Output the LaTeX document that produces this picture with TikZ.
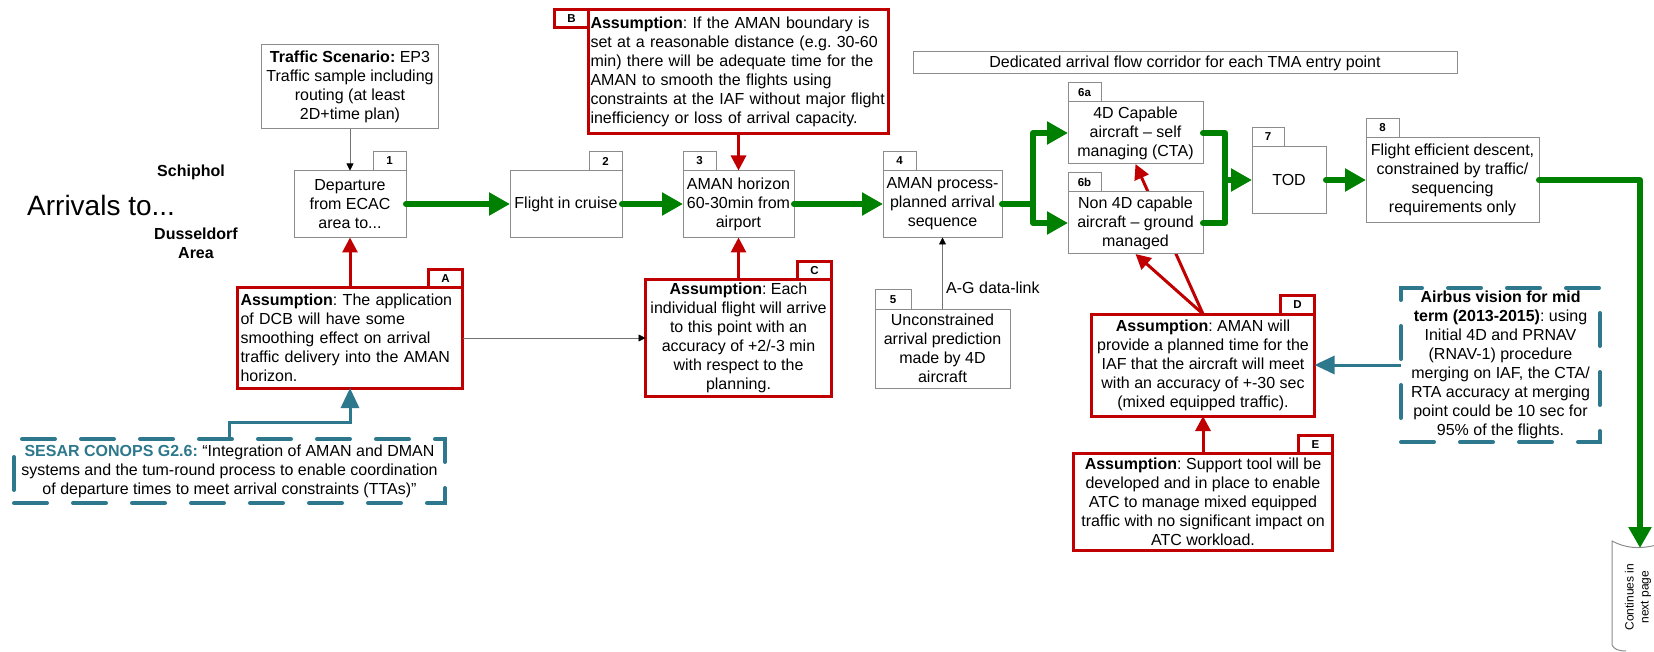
\documentclass[tikz,border=0pt]{standalone}
\usepackage{fontspec}
\setmainfont{Liberation Sans}
\usetikzlibrary{arrows.meta,positioning}
\pgfdeclarelayer{bg}
\pgfsetlayers{bg,main}
\definecolor{asred}{RGB}{192,0,0}
\definecolor{flowgreen}{RGB}{0,128,0}
\definecolor{visionteal}{RGB}{45,120,140}
\definecolor{boxgray}{RGB}{140,140,140}
\newcommand{\boxfont}{\fontsize{16}{19}\selectfont}
\newcommand{\tabfont}{\fontsize{11.5}{12}\selectfont\bfseries}
\frenchspacing

\begin{document}
\begin{tikzpicture}[x=1pt, y=-1pt,
	stepbox/.style={draw=boxgray, fill=white, line width=1pt, inner sep=2pt, outer sep=0pt, align=center, font=\boxfont},
	tab/.style={draw=boxgray, fill=white, line width=1pt, minimum width=33pt, minimum height=19pt, inner sep=0pt, outer sep=0pt, font=\tabfont},
	assumption/.style={stepbox, draw=asred, line width=3pt},
	atab/.style={tab, draw=asred, line width=3pt, minimum width=34pt, minimum height=18pt},
	vision/.style={draw=visionteal, line width=4pt, line cap=round, dash pattern=on 33pt off 26pt, inner sep=2pt, outer sep=0pt, align=center, font=\boxfont},
	flow/.style={draw=flowgreen, line width=6pt, line cap=round, line join=round, -{Triangle[length=21pt, width=22pt]}},
	flowline/.style={draw=flowgreen, line width=6pt, line cap=round, line join=round},
	cause/.style={draw=asred, line width=3pt, -{Triangle[length=15pt, width=15pt]}},
	support/.style={draw=visionteal, line width=3pt, -{Triangle[length=20pt, width=18pt]}},
	feed/.style={draw=black!55, line width=0.8pt, -{Triangle[length=7pt, width=7pt, color=black]}}]
	\useasboundingbox (0,0) rectangle (1654,652);

	% titles on the left
	\node[font=\fontsize{28}{32}\selectfont, inner sep=0pt, anchor=west] (arrivals) at (27,205) {Arrivals to...};
	\node[font=\boxfont\bfseries] (schiphol) at (191,172) {Schiphol};
	\node[font=\boxfont\bfseries, align=center] (dusseldorf) at (196,243) {Dusseldorf\\Area};

	% process steps
	\node[stepbox, minimum width=177pt, minimum height=84pt] (scenario) at (350,87) {\textbf{Traffic Scenario:} EP3\\Traffic sample including\\routing (at least\\2D+time plan)};
	\node[stepbox, minimum width=112pt, minimum height=67pt] (depart) at (350,204) {Departure\\from ECAC\\area to...};
	\node[tab, anchor=south east] (t1) at (depart.north east) {1};
	\node[stepbox, minimum width=112pt, minimum height=67pt] (cruise) at (566,204) {Flight in cruise};
	\node[tab, anchor=south east] (t2) at (cruise.north east) {2};
	\node[stepbox, minimum width=111pt, minimum height=67pt] (horizon) at (738.5,204) {AMAN horizon\\60-30min from\\airport};
	\node[tab, anchor=south west] (t3) at (horizon.north west) {3};
	\node[stepbox, minimum width=119pt, minimum height=67pt] (sequence) at (942.5,204) {AMAN process-\\planned arrival\\sequence};
	\node[tab, anchor=south west] (t4) at (sequence.north west) {4};
	\node[stepbox, minimum width=135pt, minimum height=79pt] (predict) at (942.5,348.5) {Unconstrained\\arrival prediction\\made by 4D\\aircraft};
	\node[tab, anchor=south west, minimum width=36pt] (t5) at (predict.north west) {5};
	\node[stepbox, minimum width=135pt, minimum height=62pt] (capable) at (1135.5,133) {4D Capable\\aircraft – self\\managing (CTA)};
	\node[tab, anchor=south west] (t6a) at (capable.north west) {6a};
	\node[stepbox, minimum width=135pt, minimum height=62pt] (ground) at (1135.5,223) {Non 4D capable\\aircraft – ground\\managed};
	\node[tab, anchor=south west] (t6b) at (ground.north west) {6b};
	\node[stepbox, minimum width=74pt, minimum height=67pt] (tod) at (1289,180) {TOD};
	\node[tab, anchor=south west, minimum width=32pt] (t7) at (tod.north west) {7};
	\node[stepbox, minimum width=173pt, minimum height=85pt] (descent) at (1452.5,180) {Flight efficient descent,\\constrained by traffic/\\sequencing\\requirements only};
	\node[tab, anchor=south west] (t8) at (descent.north west) {8};
	\node[stepbox, minimum width=544pt, minimum height=22pt] (corridor) at (1185,63) {Dedicated arrival flow corridor for each TMA entry point};

	% assumptions
	\node[assumption, minimum width=225pt, minimum height=100pt, text width=219pt, align=left] (dcb) at (350,338) {\textbf{Assumption}: The application\\of DCB will have some\\smoothing effect on arrival\\traffic delivery into the AMAN\\horizon.};
	\node[atab, anchor=south east] (ta) at (dcb.north east) {A};
	\node[assumption, minimum width=300pt, minimum height=124pt, text width=296pt, align=left] (boundary) at (738.5,71.5) {\textbf{Assumption}: If the AMAN boundary is\\set at a reasonable distance (e.g. 30-60\\min) there will be adequate time for the\\AMAN to smooth the flights using\\constraints at the IAF without major flight\\inefficiency or loss of arrival capacity.};
	\node[atab, anchor=north east] (tb) at (boundary.north west) {B};
	\node[assumption, minimum width=186pt, minimum height=116pt] (accuracy) at (738.5,338) {\textbf{Assumption}: Each\\individual flight will arrive\\to this point with an\\accuracy of +2/-3 min\\with respect to the\\planning.};
	\node[atab, anchor=south east] (tc) at (accuracy.north east) {C};
	\node[assumption, minimum width=223pt, minimum height=102pt] (planned) at (1203,365) {\textbf{Assumption}: AMAN will\\provide a planned time for the\\IAF that the aircraft will meet\\with an accuracy of +-30 sec\\(mixed equipped traffic).};
	\node[atab, anchor=south east] (td) at (planned.north east) {D};
	\node[assumption, minimum width=259pt, minimum height=97pt] (tool) at (1203,502) {\textbf{Assumption}: Support tool will be\\developed and in place to enable\\ATC to manage mixed equipped\\traffic with no significant impact on\\ATC workload.};
	\node[atab, anchor=south east] (te) at (tool.north east) {E};

	% visions
	\node[vision, minimum width=431pt, minimum height=64pt] (conops) at (229.5,471) {\textcolor{visionteal}{\textbf{SESAR CONOPS G2.6:}} “Integration of AMAN and DMAN\\systems and the tum-round process to enable coordination\\of departure times to meet arrival constraints (TTAs)”};
	\node[vision, minimum width=199pt, minimum height=154pt] (airbus) at (1500.5,365) {\textbf{Airbus vision for mid}\\\textbf{term (2013-2015)}: using\\Initial 4D and PRNAV\\(RNAV-1) procedure\\merging on IAF, the CTA/\\RTA accuracy at merging\\point could be 10 sec for\\95\% of the flights.};

	% off-page connector
	\draw[boxgray, line width=1pt] (1660,544) .. controls (1640,550) and (1625,548) .. (1612,541) -- (1612,645) .. controls (1614,649) and (1618,651) .. (1626,651);
	\coordinate (offpage) at (1640,548);
	\node[font=\fontsize{12}{15}\selectfont, align=center, rotate=90] (nextpage) at (1638,597) {Continues in\\next page};

	% main flow
	\draw[flow] (depart.east) -- (cruise.west);
	\draw[flow] (cruise.east) -- (horizon.west);
	\draw[flow] (horizon.east) -- (sequence.west);
	\coordinate (fork) at (1033,204);
	\draw[flowline] (sequence.east) -- (fork);
	\draw[flow] (fork) |- (capable.west);
	\draw[flow] (fork) |- (ground.west);
	\coordinate (merge) at (1225,180);
	\draw[flowline] (capable.east) -| (merge);
	\draw[flowline] (ground.east) -| (merge);
	\draw[flow] (merge) -- (tod.west);
	\draw[flow] (tod.east) -- (descent.west);
	\draw[flow] (descent.east) -| (offpage);

	% assumptions and inputs
	\draw[feed] (scenario) -- (depart);
	\draw[cause] (dcb.north) -- (depart.south);
	\draw[cause] (boundary.south) -- (horizon.north);
	\draw[cause] (accuracy.north) -- (horizon.south);
	\draw[cause] (planned.north) -- (ground.south);
	\begin{pgfonlayer}{bg}
		\draw[cause] (planned.north) -- (capable.south);
	\end{pgfonlayer}
	\draw[cause] (tool.north) -- (planned.south);
	\draw[support] (conops.north) -- ++(0,-17) -| (dcb.south);
	\draw[support] (airbus.west) -- (planned.east);
	\draw[feed] (dcb.east) -- (accuracy.west);
	\draw[feed] (predict.north) -- node[pos=0.3, right, font=\boxfont] {A-G data-link} (sequence.south);
\end{tikzpicture}
\end{document}
